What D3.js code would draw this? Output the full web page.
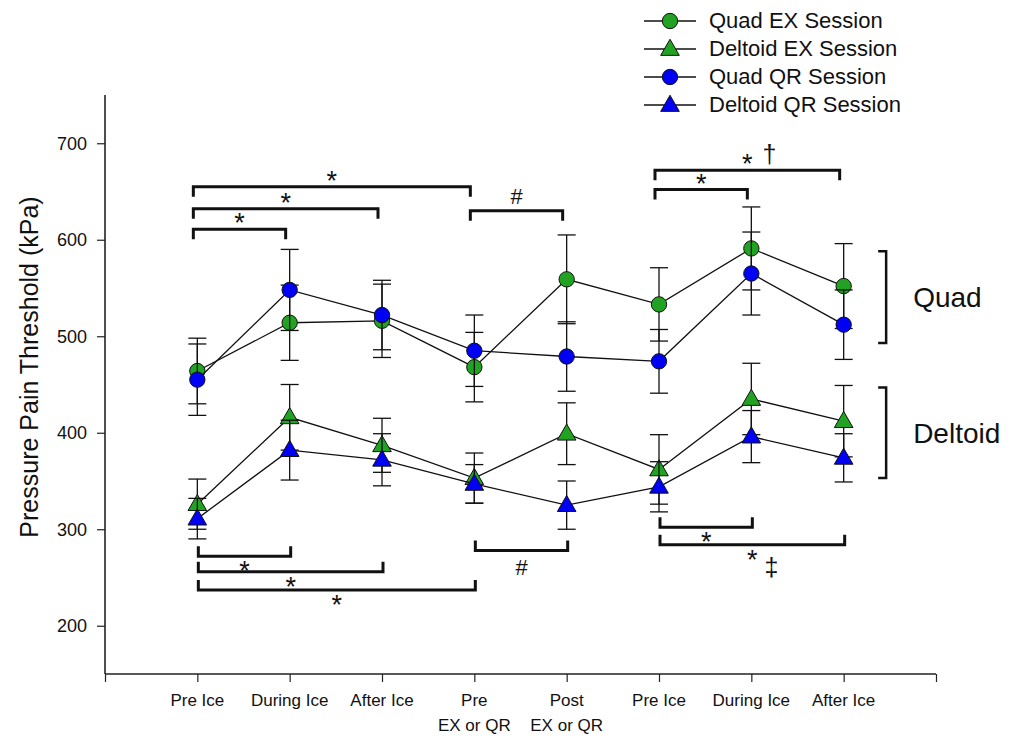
<!DOCTYPE html>
<html>
<head>
<meta charset="utf-8">
<script src="https://cdn.jsdelivr.net/npm/d3@7"></script>
<style>
  body { margin: 0; background: #fff; }
  svg text { font-family: Arial, "Liberation Sans", sans-serif; }
</style>
</head>
<body>
<div id="chart"></div>
<script>
// datos
var categories = [["Pre Ice"], ["During Ice"], ["After Ice"], ["Pre", "EX or QR"], ["Post", "EX or QR"], ["Pre Ice"], ["During Ice"], ["After Ice"]];
var yTicks = [200, 300, 400, 500, 600, 700];

var quadEX = [464, 514, 516, 468, 559, 533, 591, 552];
var quadEXErr = [34, 39, 38, 36, 46, 38, 43, 44];
var deltEX = [326, 416, 387, 353, 399, 362, 435, 412];
var deltEXErr = [26, 34, 28, 26, 32, 36, 37, 37];
var quadQR = [455, 548, 522, 485, 479, 474, 565, 512];
var quadQRErr = [37, 42, 36, 37, 36, 33, 43, 36];
var deltQR = [311, 382, 372, 347, 325, 344, 396, 374];
var deltQRErr = [21, 31, 27, 20, 25, 26, 27, 25];

var seriesNames = ["Quad EX Session", "Deltoid EX Session", "Quad QR Session", "Deltoid QR Session"];

// corchetes de significancia (categoria inicio, fin, nivel en kPa)
var sigTop = [
  { from: 1, to: 4, level: 655, label: "*" },
  { from: 1, to: 3, level: 632, label: "*" },
  { from: 1, to: 2, level: 611, label: "*" },
  { from: 4, to: 5, level: 630, label: "#" },
  { from: 6, to: 7, level: 652, label: "*" },
  { from: 6, to: 8, level: 672, label: "*", extra: "\u2020" }
];
var sigBottom = [
  { from: 1, to: 2, level: 272, label: "*" },
  { from: 1, to: 3, level: 256, label: "*" },
  { from: 1, to: 4, level: 237, label: "*" },
  { from: 4, to: 5, level: 278, label: "#" },
  { from: 6, to: 7, level: 302, label: "*" },
  { from: 6, to: 8, level: 284, label: "*", extra: "\u2021" }
];
// grupos a la derecha
var groups = [
  { name: "Quad", top: 588, bottom: 493 },
  { name: "Deltoid", top: 447, bottom: 353 }
];

var width = 1014, height = 736;
var green = "#22a222", blue = "#0000f5";

var svg = d3.select("#chart").append("svg")
    .attr("width", width)
    .attr("height", height);

var x = d3.scaleLinear().domain([0, 9]).range([105, 936]);
var y = d3.scaleLinear().domain([150, 750]).range([674, 95]);

// ejes
svg.append("g")
    .attr("transform", "translate(0,674)")
    .call(d3.axisBottom(x).tickValues(d3.range(0, 10)).tickSize(8).tickFormat(""))
    .call(g => g.select(".domain").attr("d", "M105,0H936").attr("stroke", "#222").attr("stroke-width", 1.6))
    .call(g => g.selectAll(".tick line").attr("stroke", "#222").attr("stroke-width", 1.2));

svg.append("g")
    .attr("transform", "translate(105,0)")
    .call(d3.axisLeft(y).tickValues(yTicks).tickSize(8).tickPadding(10))
    .call(g => g.select(".domain").attr("d", "M0,95V674").attr("stroke", "#222").attr("stroke-width", 1.6))
    .call(g => g.selectAll(".tick line").attr("stroke", "#222").attr("stroke-width", 1.2))
    .call(g => g.selectAll(".tick text").style("font-size", "18px").attr("fill", "#111"));

// etiquetas del eje x
categories.forEach(function(lines, i) {
  lines.forEach(function(t, j) {
    svg.append("text")
      .attr("x", x(i + 1))
      .attr("y", 706 + j * 25)
      .attr("text-anchor", "middle")
      .style("font-size", "17px")
      .attr("fill", "#111")
      .text(t);
  });
});

svg.append("text")
    .attr("transform", "translate(38,367) rotate(-90)")
    .attr("text-anchor", "middle")
    .style("font-size", "25px")
    .attr("fill", "#111")
    .text("Pressure Pain Threshold (kPa)");

// series
var series = [
  { vals: quadEX, err: quadEXErr, color: green, shape: "circle" },
  { vals: deltEX, err: deltEXErr, color: green, shape: "triangle" },
  { vals: quadQR, err: quadQRErr, color: blue, shape: "circle" },
  { vals: deltQR, err: deltQRErr, color: blue, shape: "triangle" }
];

var circleSym = d3.symbol().type(d3.symbolCircle).size(185);
var triSym = d3.symbol().type(d3.symbolTriangle).size(150);

var linea = d3.line()
    .x((d, i) => x(i + 1))
    .y(d => y(d));

series.forEach(function(s) {
  var g = svg.append("g");
  // barras de error
  s.vals.forEach(function(v, i) {
    var cx = x(i + 1);
    g.append("line").attr("x1", cx).attr("x2", cx)
      .attr("y1", y(v - s.err[i])).attr("y2", y(v + s.err[i]))
      .attr("stroke", "#111").attr("stroke-width", 1.3);
    [v - s.err[i], v + s.err[i]].forEach(function(e) {
      g.append("line").attr("x1", cx - 9).attr("x2", cx + 9)
        .attr("y1", y(e)).attr("y2", y(e))
        .attr("stroke", "#111").attr("stroke-width", 1.3);
    });
  });
  g.append("path")
    .datum(s.vals)
    .attr("fill", "none")
    .attr("stroke", "#111")
    .attr("stroke-width", 1.3)
    .attr("d", linea);
  g.selectAll("path.pt").data(s.vals).enter()
    .append("path")
    .attr("class", "pt")
    .attr("transform", (d, i) => "translate(" + x(i + 1) + "," + (y(d) + (s.shape === "triangle" ? 1 : 0)) + ")")
    .attr("d", s.shape === "circle" ? circleSym : triSym)
    .attr("fill", s.color)
    .attr("stroke", "#111")
    .attr("stroke-width", 1);
});

// corchetes
function bracket(b, dir) {
  var off = dir === "down" ? -4 : 1;
  var x1 = x(b.from) + off, x2 = x(b.to) + off;
  var yy = y(b.level);
  var t = dir === "down" ? 10 : -10;
  svg.append("path")
    .attr("d", "M" + x1 + "," + (yy + t) + "V" + yy + "H" + x2 + "V" + (yy + t))
    .attr("fill", "none")
    .attr("stroke", "#111")
    .attr("stroke-width", 3);
  var cx = (x1 + x2) / 2;
  var isHash = b.label === "#";
  var by = dir === "down" ? (isHash ? yy - 7 : yy + 3) : (isHash ? yy + 25 : yy + 24);
  svg.append("text")
    .attr("x", cx)
    .attr("y", by)
    .attr("text-anchor", "middle")
    .style("font-size", isHash ? "22px" : "27px")
    .attr("fill", "#111")
    .text(b.label);
  if (b.extra) {
    svg.append("text")
      .attr("x", cx + (dir === "down" ? 22 : 19))
      .attr("y", dir === "down" ? yy - 7 : yy + 31)
      .attr("text-anchor", "middle")
      .style("font-size", "25px")
      .attr("fill", "#111")
      .text(b.extra);
  }
}
sigTop.forEach(b => bracket(b, "down"));
sigBottom.forEach(b => bracket(b, "up"));

// grupos Quad / Deltoid
groups.forEach(function(gr) {
  var gx = x(8.46);
  svg.append("path")
    .attr("d", "M" + (gx - 8) + "," + y(gr.top) + "H" + gx + "V" + y(gr.bottom) + "H" + (gx - 8))
    .attr("fill", "none")
    .attr("stroke", "#111")
    .attr("stroke-width", 2.5);
  svg.append("text")
    .attr("x", gx + 27)
    .attr("y", y((gr.top + gr.bottom) / 2) + 10)
    .style("font-size", "28px")
    .attr("fill", "#111")
    .text(gr.name);
});

// leyenda
var legend = svg.append("g");
seriesNames.forEach(function(name, i) {
  var ly = 21 + i * 28;
  var s = series[i];
  legend.append("line")
    .attr("x1", 644).attr("x2", 696)
    .attr("y1", ly).attr("y2", ly)
    .attr("stroke", "#111").attr("stroke-width", 1.5);
  legend.append("path")
    .attr("transform", "translate(670," + (ly + (s.shape === "triangle" ? 1 : 0)) + ")")
    .attr("d", s.shape === "circle" ? circleSym : triSym)
    .attr("fill", s.color)
    .attr("stroke", "#111")
    .attr("stroke-width", 1);
  legend.append("text")
    .attr("x", 709)
    .attr("y", ly + 7)
    .style("font-size", "22px")
    .attr("fill", "#111")
    .text(name);
});
</script>
</body>
</html>
